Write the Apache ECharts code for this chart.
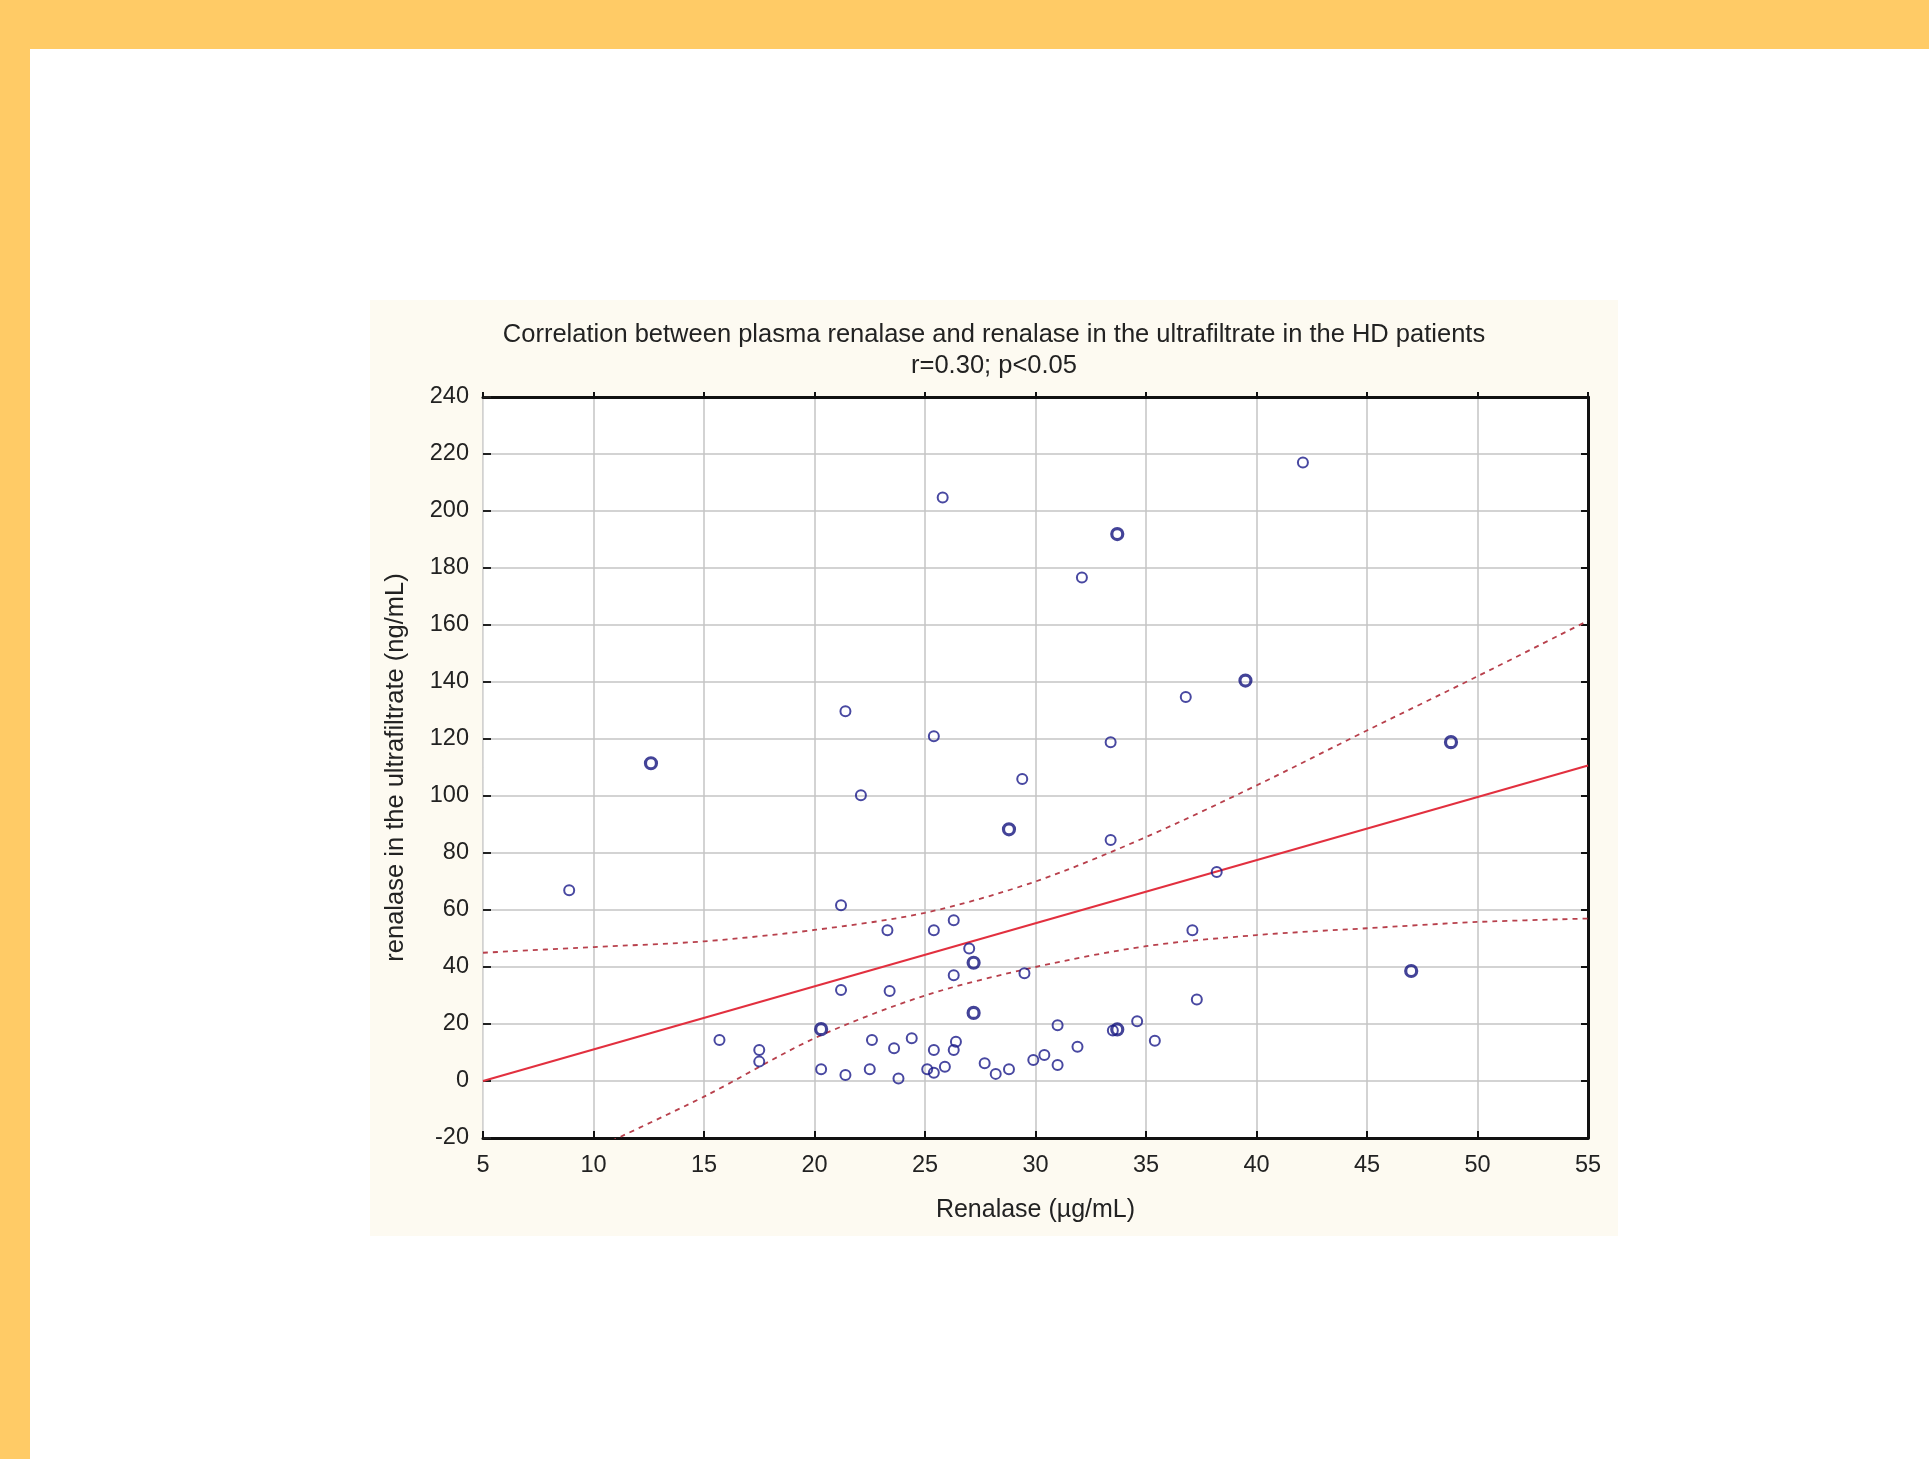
<!DOCTYPE html>
<html>
<head>
<meta charset="utf-8">
<script src="https://cdn.jsdelivr.net/npm/echarts@6/dist/echarts.min.js"></script>
<style>
  html, body { margin: 0; padding: 0; background: #ffffff; }
  #chart { width: 1929px; height: 1459px; }
</style>
</head>
<body>
<div id="chart"></div>
<script>
// ---- Data ----
const titleText = 'Correlation between plasma renalase and renalase in the ultrafiltrate in the HD patients';
const subtitleText = 'r=0.30; p<0.05';
const xAxisName = 'Renalase (µg/mL)';
const yAxisName = 'renalase in the ultrafiltrate (ng/mL)';

const xTicks = [5, 10, 15, 20, 25, 30, 35, 40, 45, 50, 55];
const yTicks = [-20, 0, 20, 40, 60, 80, 100, 120, 140, 160, 180, 200, 220, 240];

// patients (plasma renalase, ultrafiltrate renalase)
const patients = [
  [8.9, 66.9], [15.7, 14.4], [17.5, 10.9], [17.5, 6.8], [20.3, 4.1],
  [21.2, 61.7], [21.2, 31.9], [21.4, 129.7], [21.4, 2.1], [22.1, 100.3],
  [22.6, 14.4], [22.5, 4.1], [23.3, 52.9], [23.4, 31.6], [23.6, 11.5],
  [23.8, 0.9], [24.4, 15.0], [25.1, 4.1], [25.4, 121.0], [25.4, 52.9],
  [25.4, 10.9], [25.4, 2.9], [25.8, 204.7], [25.9, 5.0], [26.3, 56.4],
  [26.3, 37.1], [26.3, 10.9], [26.4, 13.8], [27.0, 46.5], [27.7, 6.2],
  [28.2, 2.5], [28.8, 4.1], [29.4, 106.0], [29.5, 37.8], [29.9, 7.4],
  [30.4, 9.1], [31.0, 5.6], [31.0, 19.6], [31.9, 12.0], [32.1, 176.7],
  [33.4, 118.9], [33.4, 84.6], [33.5, 17.7], [34.6, 21.0], [35.4, 14.1],
  [36.8, 134.7], [37.1, 52.9], [37.3, 28.6], [38.2, 73.3], [42.1, 217.0]
];
// points drawn with a heavier outline (overlapping observations)
const patientsBold = [
  [12.6, 111.5], [20.3, 18.2], [27.2, 41.5], [27.2, 23.9], [28.8, 88.3],
  [33.7, 191.9], [33.7, 18.1], [39.5, 140.5], [47.0, 38.6], [48.8, 118.9]
];

// regression line
const regX = [5, 55];
const regY = [0, 110.7];

// 95% confidence band
const bandX = [10, 15, 20, 25, 30, 35, 40, 45, 50, 55];
const bandUpperX = [5, 10, 15, 20, 25, 30, 35, 40, 45, 50, 55];
const bandUpper = [45, 47, 49, 53, 59, 70, 85.6, 103.7, 123, 142, 161.5];
const bandLower = [-24, -5.5, 15, 30, 40, 47.3, 51.2, 53.6, 55.8, 57];

// ---- Chart ----
const FONT = '"Liberation Sans", Arial, sans-serif';
const chart = echarts.init(document.getElementById('chart'), null, { renderer: 'canvas' });

const zip = (xs, ys) => xs.map((x, i) => [x, ys[i]]);

const option = {
  backgroundColor: '#ffffff',
  animation: false,
  graphic: [
    { type: 'rect', z: -10, shape: { x: 0, y: 0, width: 1929, height: 49 }, style: { fill: '#FFCB66' } },
    { type: 'rect', z: -10, shape: { x: 0, y: 0, width: 30, height: 1459 }, style: { fill: '#FFCB66' } },
    { type: 'rect', z: -10, shape: { x: 370, y: 300, width: 1248, height: 936 }, style: { fill: '#FDFAF1' } }
  ],
  title: {
    text: titleText,
    subtext: subtitleText,
    left: 994,
    top: 322,
    textAlign: 'center',
    padding: 0,
    itemGap: 5,
    textStyle: { fontFamily: FONT, fontSize: 25.5, fontWeight: 'normal', color: '#222' },
    subtextStyle: { fontFamily: FONT, fontSize: 25.5, color: '#222' }
  },
  grid: {
    left: 483, top: 397, width: 1105, height: 741,
    show: true, backgroundColor: '#ffffff', borderWidth: 0
  },
  xAxis: [
    {
      type: 'value', min: 5, max: 55, interval: 5, position: 'bottom',
      name: xAxisName, nameLocation: 'middle', nameGap: 60,
      nameTextStyle: { fontFamily: FONT, fontSize: 25, color: '#222' },
      axisLine: { show: true, onZero: false, lineStyle: { color: '#111', width: 3 } },
      axisTick: { show: true, inside: true, length: 7, lineStyle: { color: '#111', width: 2 } },
      axisLabel: { fontFamily: FONT, fontSize: 23.5, color: '#222', margin: 16,
        customValues: xTicks },
      splitLine: { show: true, lineStyle: { color: '#C4C4C4', width: 1.5 } }
    },
    {
      type: 'value', min: 5, max: 55, interval: 5, position: 'top',
      axisLine: { show: true, onZero: false, lineStyle: { color: '#111', width: 3 } },
      axisTick: { show: true, inside: false, length: 5, lineStyle: { color: '#111', width: 2 } },
      axisLabel: { show: false },
      splitLine: { show: false }
    }
  ],
  yAxis: [
    {
      type: 'value', min: -20, max: 240, interval: 20, position: 'left',
      name: yAxisName, nameLocation: 'middle', nameGap: 74, nameRotate: 90,
      nameTextStyle: { fontFamily: FONT, fontSize: 25.5, color: '#222' },
      axisLine: { show: true, onZero: false, lineStyle: { color: '#DDDDDD', width: 1 } },
      axisTick: { show: true, inside: true, length: 8, lineStyle: { color: '#222', width: 2 } },
      axisLabel: { fontFamily: FONT, fontSize: 23.5, color: '#222', margin: 14 },
      splitLine: { show: true, lineStyle: { color: '#C4C4C4', width: 1.5 } }
    },
    {
      type: 'value', min: -20, max: 240, interval: 20, position: 'right',
      axisLine: { show: true, onZero: false, lineStyle: { color: '#111', width: 3 } },
      axisTick: { show: true, inside: true, length: 7, lineStyle: { color: '#111', width: 2 } },
      axisLabel: { show: false },
      splitLine: { show: false }
    }
  ],
  series: [
    {
      name: 'upper 95%', type: 'line', data: zip(bandUpperX, bandUpper),
      smooth: 0.3, symbol: 'none', clip: true,
      lineStyle: { color: '#B8404C', width: 1.8, type: [5, 5] }, z: 3
    },
    {
      name: 'lower 95%', type: 'line', data: zip(bandX, bandLower),
      smooth: 0.3, symbol: 'none', clip: true,
      lineStyle: { color: '#B8404C', width: 1.8, type: [5, 5] }, z: 3
    },
    {
      name: 'regression', type: 'line', data: zip(regX, regY),
      symbol: 'none', clip: true,
      lineStyle: { color: '#E2303F', width: 2.2 }, z: 4
    },
    {
      name: 'patients', type: 'scatter', data: patients,
      symbol: 'circle', symbolSize: 10,
      itemStyle: { color: 'rgba(255,255,255,0)', borderColor: '#1A1A8A', borderWidth: 2 }, z: 5
    },
    {
      name: 'patients (overlap)', type: 'scatter', data: patientsBold,
      symbol: 'circle', symbolSize: 11,
      itemStyle: { color: 'rgba(255,255,255,0)', borderColor: '#14147E', borderWidth: 3.2 }, z: 5
    }
  ]
};
chart.setOption(option);
</script>
</body>
</html>
